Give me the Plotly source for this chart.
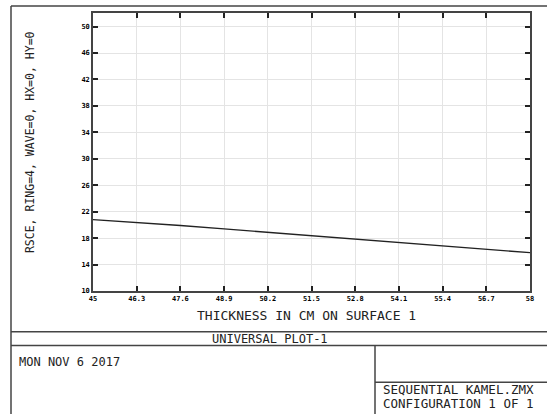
import plotly.graph_objects as go

# data
thickness = [45.0, 46.3, 47.6, 48.9, 50.2, 51.5, 52.8, 54.1, 55.4, 56.7, 58.0]
rsce = [20.8, 20.4, 19.9, 19.4, 18.9, 18.4, 17.9, 17.3, 16.9, 16.4, 15.8]
x_ticks = [45.0, 46.3, 47.6, 48.9, 50.2, 51.5, 52.8, 54.1, 55.4, 56.7, 58.0]
x_ticktext = ["45", "46.3", "47.6", "48.9", "50.2", "51.5", "52.8", "54.1", "55.4", "56.7", "58"]
y_ticks = [10, 14, 18, 22, 26, 30, 34, 38, 42, 46, 50]
y_title = "RSCE, RING=4, WAVE=0, HX=0, HY=0"
x_title = "THICKNESS IN CM ON SURFACE 1"
plot_title = "UNIVERSAL PLOT-1"
date_text = "MON NOV 6 2017"
info_lines = ["SEQUENTIAL KAMEL.ZMX", "CONFIGURATION 1 OF 1"]

W, H = 547, 414
L, R, T, B = 93, 530, 11, 291
FONT = "DejaVu Sans Mono"

def px(x):
    return (x - L) / (R - L)

def py(y):
    return (B - y) / (B - T)

fig = go.Figure()
fig.add_trace(go.Scatter(x=thickness, y=rsce, mode="lines",
                         line=dict(color="#222222", width=1.4), showlegend=False,
                         hoverinfo="skip"))

axis_common = dict(showline=True, linecolor="#444444", linewidth=1.5, mirror="ticks",
                   ticks="inside", ticklen=5, tickcolor="#222222", tickwidth=1.5,
                   showgrid=True, gridcolor="#e4e4e4", gridwidth=1, zeroline=False,
                   tickfont=dict(family=FONT, size=7, color="#000000", weight="bold"))

fig.update_xaxes(range=[45, 58], tickvals=x_ticks, ticktext=x_ticktext, **axis_common)
fig.update_yaxes(range=[10, 52.05], tickvals=y_ticks, **axis_common)

shapes = []
def line(x0, y0, x1, y1):
    shapes.append(dict(type="line", xref="paper", yref="paper",
                       x0=px(x0), y0=py(y0), x1=px(x1), y1=py(y1),
                       line=dict(color="#444444", width=1.5)))

line(11, 4, 560, 4)
line(11, 4, 11, 420)
line(11, 332, 560, 332)
line(11, 346, 560, 346)
line(375, 346, 375, 420)
line(375, 383, 560, 383)

ann = []
def text(x, y, s, size=12, xanchor="left", angle=0):
    ann.append(dict(x=px(x), y=py(y), xref="paper", yref="paper", text=s, showarrow=False,
                    xanchor=xanchor, yanchor="middle", textangle=angle,
                    font=dict(family=FONT, size=size, color="#222222")))

text(306, 316, x_title, size=13, xanchor="center")
text(30, 141, y_title, size=11.5, xanchor="center", angle=-90)
text(270, 339, plot_title, size=12, xanchor="center")
text(17, 363, date_text, size=12)
text(381, 390, info_lines[0], size=12.5)
text(381, 404, info_lines[1], size=12.5)

fig.update_layout(width=W, height=H, margin=dict(l=L, r=W - R, t=T, b=H - B),
                  paper_bgcolor="white", plot_bgcolor="white",
                  shapes=shapes, annotations=ann, showlegend=False)

fig.write_html("out.html", config={"displayModeBar": False},
               post_script="document.body.style.margin='0';document.body.style.overflow='hidden';")
